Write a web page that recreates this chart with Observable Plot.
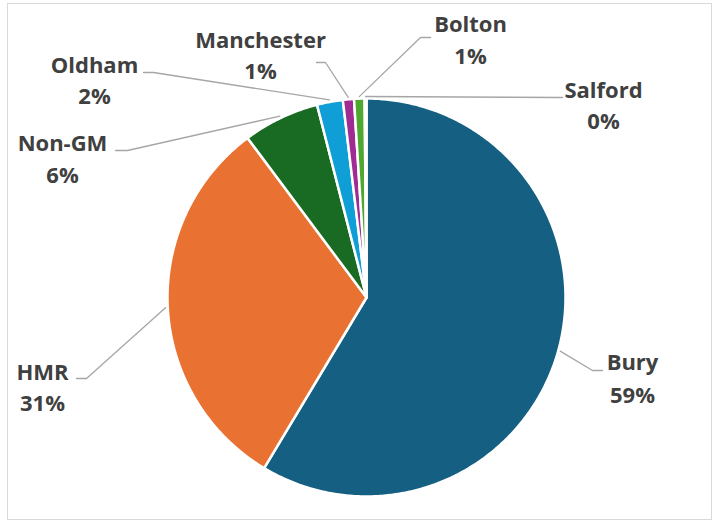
<!DOCTYPE html>
<html><head><meta charset="utf-8">
<script src="https://cdn.jsdelivr.net/npm/d3@7"></script>
<script src="https://cdn.jsdelivr.net/npm/@observablehq/plot@0.6"></script>
<style>
body{margin:0;background:#fff}
#wrap{position:relative;width:715px;height:521px}
#border{position:absolute;left:7px;top:3px;width:705px;height:517px;border:1px solid #d9d9d9;box-sizing:border-box;pointer-events:none}
</style>
</head><body>
<div id="wrap"><div id="border"></div></div>
<script>
// ---- data ----
const names  = ["Bury", "HMR", "Non-GM", "Oldham", "Manchester", "Bolton", "Salford"];
const shares = [58.6, 31.2, 6.2, 2.1, 0.9, 0.85, 0.15];
const colors = ["#156082", "#E97132", "#196B24", "#0F9ED5", "#A02B93", "#4EA72E", "#0E4560"];

// ---- layout (pixels) ----
const W = 715, H = 521;
const pie = {cx: 366, cy: 297, r: 199};
const labelLayout = [
  {x: 632, y1: 369, y2: 402, ex: 592, ey: 370, hx: 602},
  {x: 42,  y1: 379, y2: 410, ex: 86,  ey: 378, hx: 76},
  {x: 62,  y1: 150, y2: 182, ex: 127, ey: 150, hx: 115},
  {x: 94,  y1: 72,  y2: 103, ex: 153, ey: 72,  hx: 143},
  {x: 260, y1: 47,  y2: 78,  ex: 325, ey: 62,  hx: 316},
  {x: 470, y1: 31,  y2: 63,  ex: 420, ey: 37,  hx: 430},
  {x: 603, y1: 97,  y2: 128, ex: 560, ey: 97,  hx: 562}
];

const total = d3.sum(shares);
const arcs = d3.pie().sort(null).value(d => d)(shares);
const px = a => pie.cx + Math.sin(a) * pie.r;
const py = a => pie.cy - Math.cos(a) * pie.r;

// slice polygons
const slicePts = [];
arcs.forEach((a, i) => {
  const name = names[i];
  slicePts.push({name, x: pie.cx, y: pie.cy});
  const n = Math.max(2, Math.ceil((a.endAngle - a.startAngle) / 0.01));
  for (let k = 0; k <= n; k++) {
    const t = a.startAngle + (a.endAngle - a.startAngle) * k / n;
    slicePts.push({name, x: px(t), y: py(t)});
  }
  slicePts.push({name, x: pie.cx, y: pie.cy});
});

// leader lines
const leaderPts = [];
arcs.forEach((a, i) => {
  const name = names[i], L = labelLayout[i];
  const m = (a.startAngle + a.endAngle) / 2;
  leaderPts.push({name, x: pie.cx + Math.sin(m) * pie.r * 1.01, y: pie.cy - Math.cos(m) * pie.r * 1.01});
  leaderPts.push({name, x: L.ex, y: L.ey});
  leaderPts.push({name, x: L.hx, y: L.ey});
});

const labels = names.map((name, i) => ({
  name,
  pct: Math.round(shares[i] / total * 100) + "%",
  x: labelLayout[i].x, y1: labelLayout[i].y1, y2: labelLayout[i].y2
}));

const textStyle = {fontSize: 22, fontWeight: 700, fill: "#404040", textAnchor: "middle", lineAnchor: "bottom"};

const chart = Plot.plot({
  width: W, height: H,
  margin: 0,
  style: {fontFamily: "'Open Sans', sans-serif", background: "transparent"},
  x: {domain: [0, W], range: [0, W], axis: null},
  y: {domain: [0, H], range: [0, H], axis: null},
  color: {domain: names, range: colors},
  marks: [
    Plot.line(slicePts, {x: "x", y: "y", z: "name", fill: "name", stroke: "white", strokeWidth: 2.5, curve: "linear-closed", strokeLinejoin: "round"}),
    Plot.line(leaderPts, {x: "x", y: "y", z: "name", stroke: "#a6a6a6", strokeWidth: 1.3}),
    Plot.text(labels, {x: "x", y: "y1", text: "name", ...textStyle}),
    Plot.text(labels, {x: "x", y: "y2", text: "pct", ...textStyle})
  ]
});
document.getElementById("wrap").appendChild(chart);
chart.style.position = "absolute";
chart.style.left = "0px";
chart.style.top = "0px";
</script>
</body></html>
